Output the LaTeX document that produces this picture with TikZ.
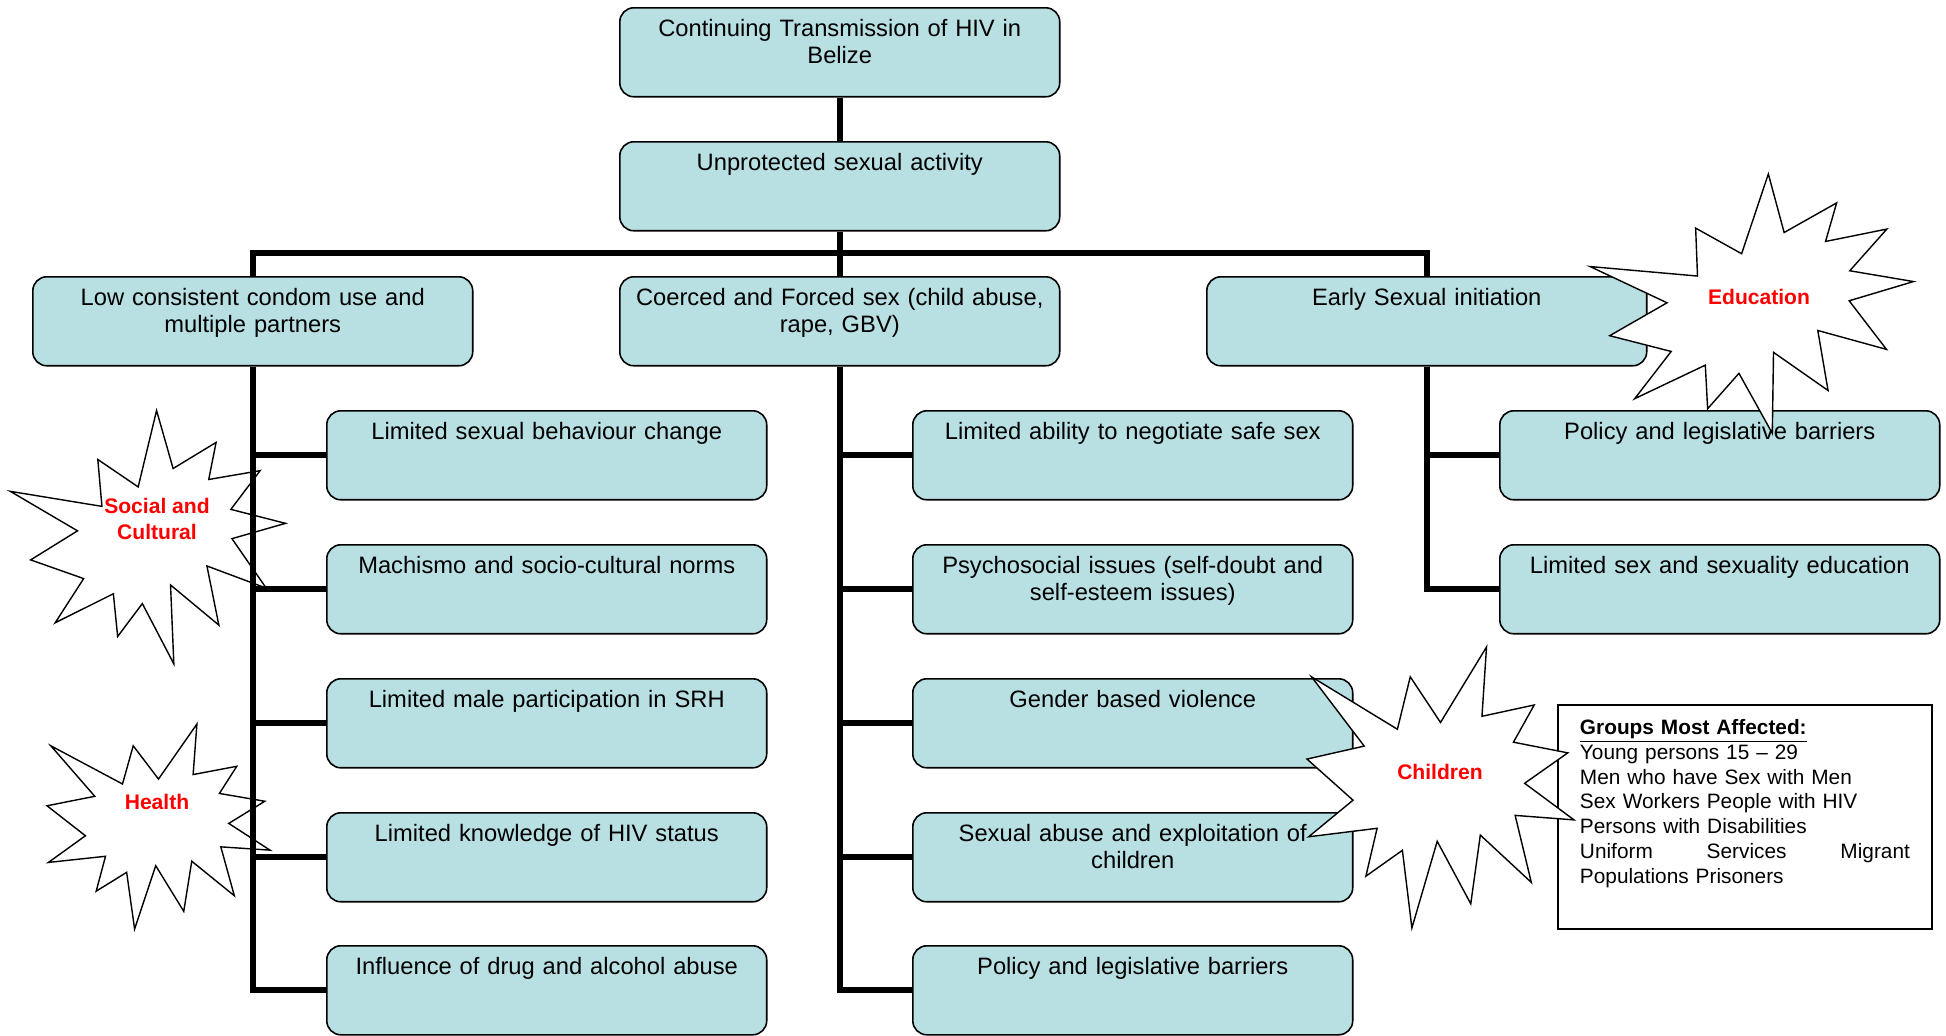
\documentclass[tikz,border=0pt]{standalone}
\usepackage{fontspec}
\setmainfont{Liberation Sans}
\usetikzlibrary{backgrounds}
\definecolor{bleuboite}{RGB}{184,224,227}
\definecolor{rougetheme}{RGB}{255,0,0}
\tikzset{%
    cause/.style={draw, line width=0.9pt, fill=bleuboite, rounded corners=0.28cm,
        anchor=north west, inner xsep=0.2cm, inner ysep=0.2cm, text width=8.4cm,
        align=center, text height=0.37cm, text depth=1.01cm,
        font=\fontsize{13.5}{15.3}\selectfont},
    liaison/.style={line width=0.12cm},
    etoile/.style={draw, line width=0.8pt, fill=white},
    theme/.style={text=rougetheme, align=center, inner sep=0pt,
        font=\bfseries\fontsize{12}{14.7}\selectfont},
    legende/.style={draw, line width=1.1pt, fill=white, anchor=north west,
        inner xsep=0.44cm, inner ysep=0.21cm, text width=6.6cm, align=left,
        text height=0.38cm, text depth=3.68cm,
        font=\fontsize{11.85}{14.1}\selectfont}%
}
% Etoile : centre x, centre y, largeur, hauteur, rotation
\newcommand{\eclat}[5]{%
    \begin{scope}[shift={(#1,#2)},rotate=#5,xscale=#3,yscale=#4]
        \draw[etoile] (0,-0.2315) -- (-0.1133,-0.3938) -- (-0.1615,-0.2074)
            -- (-0.4829,-0.3938) -- (-0.2858,-0.1474) -- (-0.5,-0.1012)
            -- (-0.3277,0.0451) -- (-0.4938,0.1753) -- (-0.2376,0.1452)
            -- (-0.2795,0.3156) -- (-0.1428,0.2235) -- (-0.1072,0.5)
            -- (-0.0124,0.1914) -- (0.1133,0.4138) -- (0.1491,0.1693)
            -- (0.3401,0.3377) -- (0.2795,0.0992) -- (0.5,0.1153)
            -- (0.3151,-0.0151) -- (0.4767,-0.1233) -- (0.2732,-0.1613)
            -- (0.3509,-0.2937) -- (0.1553,-0.2535) -- (0.1723,-0.5) -- cycle;
    \end{scope}%
}

\begin{document}
\begin{tikzpicture}[%
    x=0.02cm, y=-0.02cm,%
    show background rectangle,%
    tight background,%
    background rectangle/.style={fill=white}%
    ]
    \useasboundingbox (0,0) rectangle (1946,1035);

    %
    % Définitions
    %
    \pgfmathsetmacro{\xg}{32};%
    \pgfmathsetmacro{\xc}{619};%
    \pgfmathsetmacro{\xd}{1206};%
    \pgfmathsetmacro{\xsg}{326};%
    \pgfmathsetmacro{\xsc}{912};%
    \pgfmathsetmacro{\xsd}{1499};%
    \pgfmathsetmacro{\ya}{7};%
    \pgfmathsetmacro{\yb}{141};%
    \pgfmathsetmacro{\yc}{276};%
    \pgfmathsetmacro{\yra}{410};%
    \pgfmathsetmacro{\yrb}{544};%
    \pgfmathsetmacro{\yrc}{678};%
    \pgfmathsetmacro{\yrd}{812};%
    \pgfmathsetmacro{\yre}{945};%

    % Tronc
    \node[cause] (top) at (\xc,\ya) {Continuing Transmission of HIV in\\Belize};
    \node[cause] (unprot) at (\xc,\yb) {Unprotected sexual activity};

    % Causes principales
    \node[cause] (low) at (\xg,\yc) {Low consistent condom use and\\multiple partners};
    \node[cause] (coerced) at (\xc,\yc) {Coerced and Forced sex (child abuse,\\rape, GBV)};
    \node[cause] (early) at (\xd,\yc) {Early Sexual initiation};

    % Colonne gauche
    \node[cause] (l1) at (\xsg,\yra) {Limited sexual behaviour change};
    \node[cause] (l2) at (\xsg,\yrb) {Machismo and socio-cultural norms};
    \node[cause] (l3) at (\xsg,\yrc) {Limited male participation in SRH};
    \node[cause] (l4) at (\xsg,\yrd) {Limited knowledge of HIV status};
    \node[cause] (l5) at (\xsg,\yre) {Influence of drug and alcohol abuse};

    % Colonne centrale
    \node[cause] (m1) at (\xsc,\yra) {Limited ability to negotiate safe sex};
    \node[cause] (m2) at (\xsc,\yrb) {Psychosocial issues (self-doubt and\\self-esteem issues)};
    \node[cause] (m3) at (\xsc,\yrc) {Gender based violence};
    \node[cause] (m4) at (\xsc,\yrd) {Sexual abuse and exploitation of\\children};
    \node[cause] (m5) at (\xsc,\yre) {Policy and legislative barriers};

    % Colonne droite
    \node[cause] (r1) at (\xsd,\yra) {Policy and legislative barriers};
    \node[cause] (r2) at (\xsd,\yrb) {Limited sex and sexuality education};

    % Groupes
    \node[legende] (groupes) at (1557,704) {\underline{\textbf{Groups Most Affected:}}\\
        Young persons 15 – 29\\
        Men who have Sex with Men\\
        Sex Workers People with HIV\\
        Persons with Disabilities\\
        Uniform\hfill Services\hfill Migrant\\
        Populations Prisoners};

    % Etoiles
    \eclat{157.5}{540}{252}{244}{20}
    \eclat{158.5}{826.5}{223}{205}{0}
    \eclat{1761}{307}{304}{245}{20}
    \eclat{1440.5}{787.5}{267}{281}{0}

    \node[theme] (social) at (157,519) {Social and\\Cultural};
    \node[theme] (health) at (157,802) {Health};
    \node[theme] (education) at (1759,297) {Education};
    \node[theme] (children) at (1440,772) {Children};

    % Liaisons
    \coordinate (bus) at (839,253);
    \draw[liaison] (top.south) -- (unprot.north);
    \draw[liaison] (unprot.south) -- (coerced.north);
    \draw[liaison] (low.north) |- (bus) -| (early.north);

    \draw[liaison] (low.south) |- (l5.west);
    \draw[liaison] (low.south |- l1.west) -- (l1.west);
    \draw[liaison] (low.south |- l2.west) -- (l2.west);
    \draw[liaison] (low.south |- l3.west) -- (l3.west);
    \draw[liaison] (low.south |- l4.west) -- (l4.west);

    \draw[liaison] (coerced.south) |- (m5.west);
    \draw[liaison] (coerced.south |- m1.west) -- (m1.west);
    \draw[liaison] (coerced.south |- m2.west) -- (m2.west);
    \draw[liaison] (coerced.south |- m3.west) -- (m3.west);
    \draw[liaison] (coerced.south |- m4.west) -- (m4.west);

    \draw[liaison] (early.south) |- (r2.west);
    \draw[liaison] (early.south |- r1.west) -- (r1.west);

\end{tikzpicture}
\end{document}
